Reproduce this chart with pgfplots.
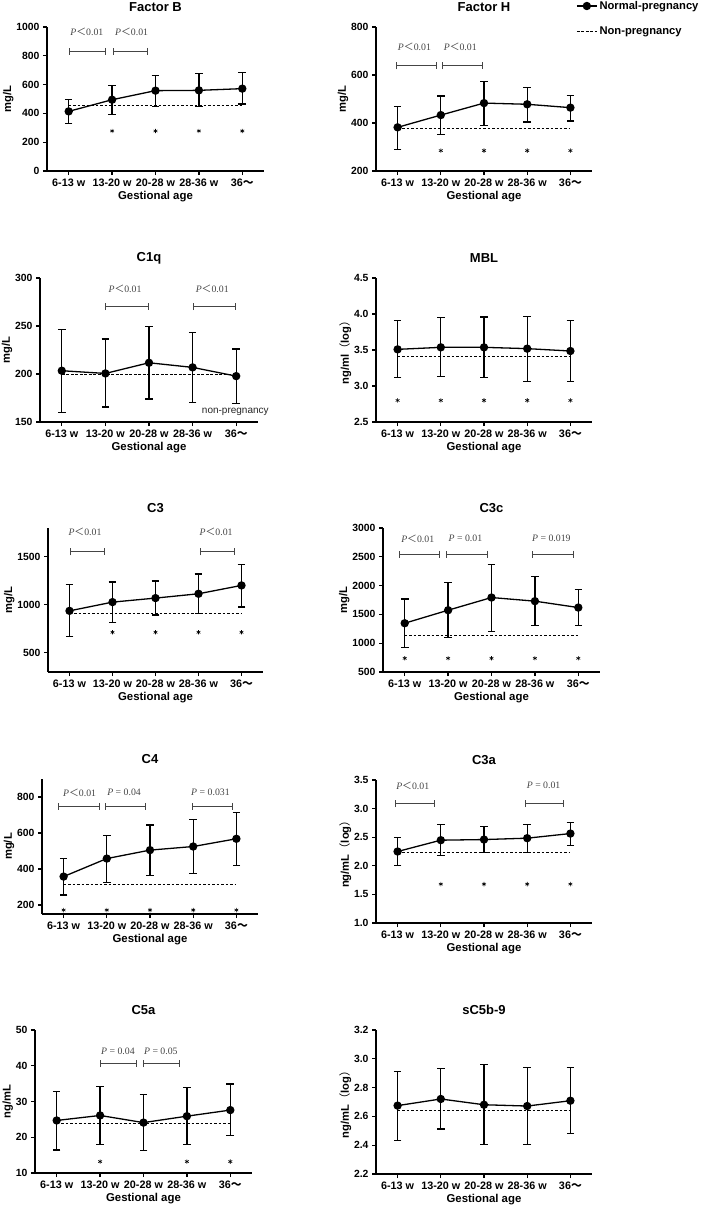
\documentclass[border=0pt]{standalone}
\usepackage{fontspec}
\setmainfont{Liberation Sans}
\newfontfamily\seriffont{Liberation Serif}
\newfontfamily\cjk{Noto Sans CJK SC}
\usepackage{pgfplots}
\pgfplotsset{compat=1.18}
\usetikzlibrary{arrows.meta}
\definecolor{brkc}{HTML}{454545}

\newcommand{\brk}[3]{\draw[brkc, line width=0.9pt, {Bar[width=7pt]}-{Bar[width=7pt]}] (axis cs:#1,#3) -- (axis cs:#2,#3);}
\newcommand{\plab}[3]{\node[text=brkc, font=\seriffont\fontsize{9.8}{10}\selectfont, inner sep=0pt] at (axis cs:#1,#2) {#3};}
\newcommand{\plt}[1]{\textit{P}{\cjk ＜}#1}
\newcommand{\peq}[1]{\textit{P} = #1}

\pgfplotsset{
  panel/.style={
    scale only axis, clip=false,
    axis lines*=left,
    axis line style={line width=1.3pt, black, -},
    tick align=outside,
    major tick length=4pt,
    tick style={line width=1.3pt, black},
    xmin=-0.5, xmax=4.5,
    xtick={0,1,2,3,4},
    xticklabels={6-13 w,13-20 w,20-28 w,28-36 w,36{\cjk ～}},
    xticklabel style={font=\bfseries\fontsize{10.8}{12}\selectfont},
    yticklabel style={font=\bfseries\fontsize{10.4}{12}\selectfont},
    /pgf/number format/assume math mode=true,
    /pgf/number format/1000 sep={},
    scaled y ticks=false,
    xlabel={Gestional age},
    xlabel style={font=\bfseries\fontsize{11.4}{12}\selectfont, at={(axis description cs:0.5,0)}, anchor=center, yshift=-26pt},
    ylabel style={font=\bfseries\fontsize{11.2}{12}\selectfont},
    ylabel shift=-4pt,
    title style={font=\bfseries\fontsize{13}{14}\selectfont, at={(axis description cs:0.5,1)}, anchor=center, yshift=14pt},
    anchor=south west,
  },
  dec/.style={yticklabel style={/pgf/number format/fixed, /pgf/number format/fixed zerofill, /pgf/number format/precision=#1}},
  mainline/.style={black, line width=1.3pt, mark=*, mark size=3.5pt, mark options={solid},
    error bars/y dir=both, error bars/y explicit,
    error bars/error bar style={line width=1.3pt, black},
    error bars/error mark options={rotate=90, line width=1.3pt, mark size=3.8pt, black}},
  nonpreg/.style={black, line width=1pt, dash pattern=on 2.7pt off 1.8pt, no marks},
  star/.style={only marks, mark=asterisk, mark size=2.2pt, line width=0.6pt, black, forget plot},
}

\begin{document}
\begin{tikzpicture}
\useasboundingbox (0pt,0pt) rectangle (709pt,-1207pt);

% Factor B
\begin{axis}[panel, at={(47pt,-171pt)}, width=217pt, height=144pt,
  ymin=0, ymax=1000, ytick={0,200,400,600,800,1000}, ylabel={mg/L}, title={Factor B}]
\addplot[nonpreg] coordinates {(0,456) (4,456)};
\addplot[mainline] table[x=x,y=y,y error plus=ep,y error minus=em] {
x y ep em
0 414 84 83
1 495 100 102
2 558 106 109
3 560 116 111
4 572 111 107
};
\addplot[star] coordinates {(1,278) (2,278) (3,278) (4,278)};
\brk{0}{0.85}{831}
\brk{1.03}{1.83}{831}
\plab{0.42}{968}{\plt{0.01}}
\plab{1.45}{968}{\plt{0.01}}
\end{axis}

% Factor H
\begin{axis}[panel, at={(376pt,-171pt)}, width=216pt, height=144pt,
  ymin=200, ymax=800, ytick={200,400,600,800}, ylabel={mg/L}, title={Factor H},
  legend style={at={(axis description cs:0,1)}, anchor=north west, xshift=200pt, yshift=28pt,
    draw=none, fill=none, inner sep=0pt, row sep=12pt,
    font=\bfseries\fontsize{11.2}{13}\selectfont},
  legend cell align=left,
  legend image code/.code={\draw[mark repeat=2, mark phase=2, #1] plot coordinates {(0pt,0pt) (10pt,0pt) (20pt,0pt)};}]
\addplot[mainline] table[x=x,y=y,y error plus=ep,y error minus=em] {
x y ep em
0 382 87 92
1 433 79 80
2 483 91 93
3 478 69 74
4 464 51 56
};
\addlegendentry{Normal-pregnancy}
\addplot[nonpreg] coordinates {(0,376) (4,376)};
\addlegendentry{Non-pregnancy}
\addplot[star] coordinates {(1,285) (2,285) (3,285) (4,285)};
\brk{-0.03}{0.9}{638}
\brk{1.03}{1.98}{638}
\plab{0.39}{717}{\plt{0.01}}
\plab{1.45}{717}{\plt{0.01}}
\end{axis}

% C1q
\begin{axis}[panel, at={(40pt,-422pt)}, width=218pt, height=144pt,
  ymin=150, ymax=300, ytick={150,200,250,300}, ylabel={mg/L}, title={C1q}]
\addplot[nonpreg] coordinates {(0,199.9) (4,199.9)};
\addplot[mainline] table[x=x,y=y,y error plus=ep,y error minus=em] {
x y ep em
0 203.4 42.6 43.4
1 200.6 35.9 34.9
2 211.7 37.7 37.7
3 206.9 36.1 36.3
4 197.8 28.2 28.8
};
\brk{1}{2}{270.3}
\brk{3}{4}{270.3}
\plab{1.45}{289}{\plt{0.01}}
\plab{3.45}{289}{\plt{0.01}}
\node[font=\fontsize{10}{10}\selectfont, text=black!85, inner sep=0pt] at (axis cs:3.98,160.4) {non-pregnancy};
\end{axis}

% MBL
\begin{axis}[panel, dec=1, at={(376pt,-422pt)}, width=216pt, height=144pt,
  ymin=2.5, ymax=4.5, ytick={2.5,3.0,3.5,4.0,4.5}, ylabel={ng/ml{\cjk\mdseries （}log{\cjk\mdseries ）}}, title={MBL}]
\addplot[nonpreg] coordinates {(0,3.416) (4,3.416)};
\addplot[mainline] table[x=x,y=y,y error plus=ep,y error minus=em] {
x y ep em
0 3.509 0.400 0.395
1 3.537 0.414 0.404
2 3.537 0.423 0.418
3 3.519 0.446 0.452
4 3.486 0.423 0.419
};
\addplot[star] coordinates {(0,2.8) (1,2.8) (2,2.8) (3,2.8) (4,2.8)};
\end{axis}

% C3
\begin{axis}[panel, at={(48pt,-672pt)}, width=215pt, height=144pt,
  ymin=300, ymax=1800, ytick={500,1000,1500}, ylabel={mg/L}, title={C3}]
\addplot[nonpreg] coordinates {(0,913) (4,913)};
\addplot[mainline] table[x=x,y=y,y error plus=ep,y error minus=em] {
x y ep em
0 937 272 268
1 1028 209 209
2 1070 177 175
3 1115 206 206
4 1202 220 226
};
\addplot[star] coordinates {(1,714) (2,714) (3,714) (4,714)};
\brk{0}{0.83}{1551}
\brk{3.03}{3.85}{1551}
\plab{0.36}{1756}{\plt{0.01}}
\plab{3.41}{1756}{\plt{0.01}}
\end{axis}

% C3c
\begin{axis}[panel, at={(383pt,-672pt)}, width=217pt, height=144pt,
  ymin=500, ymax=3000, ytick={500,1000,1500,2000,2500,3000}, ylabel={mg/L}, title={C3c}]
\addplot[nonpreg] coordinates {(0,1132) (4,1132)};
\addplot[mainline] table[x=x,y=y,y error plus=ep,y error minus=em] {
x y ep em
0 1347 423 418
1 1573 482 476
2 1793 575 591
3 1730 429 424
4 1619 314 313
};
\addplot[star] coordinates {(0,738) (1,738) (2,738) (3,738) (4,738)};
\brk{-0.14}{0.82}{2548}
\brk{0.96}{1.92}{2548}
\brk{2.94}{3.89}{2548}
\plab{0.3}{2814}{\plt{0.01}}
\plab{1.4}{2814}{\peq{0.01}}
\plab{3.38}{2814}{\peq{0.019}}
\end{axis}

% C4
\begin{axis}[panel, at={(42pt,-914pt)}, width=216pt, height=135pt,
  ymin=150, ymax=900, ytick={200,400,600,800}, ylabel={mg/L}, title={C4}]
\addplot[nonpreg] coordinates {(0,315) (4,315)};
\addplot[mainline] table[x=x,y=y,y error plus=ep,y error minus=em] {
x y ep em
0 358 100 102
1 458 130 132
2 505 139 140
3 525 152 150
4 568 147 149
};
\addplot[star] coordinates {(0,172) (1,172) (2,172) (3,172) (4,172)};
\brk{-0.12}{0.83}{748}
\brk{0.95}{1.9}{748}
\brk{2.97}{3.91}{748}
\plab{0.37}{826}{\plt{0.01}}
\plab{1.4}{826}{\peq{0.04}}
\plab{3.4}{826}{\peq{0.031}}
\end{axis}

% C3a
\begin{axis}[panel, dec=1, at={(376pt,-923pt)}, width=216pt, height=143pt,
  ymin=1, ymax=3.5, ytick={1,1.5,2,2.5,3,3.5}, ylabel={ng/mL{\cjk\mdseries （}log{\cjk\mdseries ）}}, title={C3a}]
\addplot[nonpreg] coordinates {(0,2.227) (4,2.227)};
\addplot[mainline] table[x=x,y=y,y error plus=ep,y error minus=em] {
x y ep em
0 2.25 0.25 0.25
1 2.448 0.273 0.268
2 2.459 0.227 0.226
3 2.483 0.238 0.25
4 2.564 0.192 0.204
};
\addplot[star] coordinates {(1,1.68) (2,1.68) (3,1.68) (4,1.68)};
\brk{-0.06}{0.86}{3.087}
\brk{2.96}{3.86}{3.087}
\plab{0.35}{3.40}{\plt{0.01}}
\plab{3.38}{3.40}{\peq{0.01}}
\end{axis}

% C5a
\begin{axis}[panel, at={(35pt,-1173pt)}, width=217pt, height=143pt,
  ymin=10, ymax=50, ytick={10,20,30,40,50}, ylabel={ng/mL}, title={C5a}]
\addplot[nonpreg] coordinates {(0,23.9) (4,23.9)};
\addplot[mainline] table[x=x,y=y,y error plus=ep,y error minus=em] {
x y ep em
0 24.7 8.1 8.3
1 26.1 8.1 8.2
2 24.1 7.8 7.8
3 25.9 8.0 8.0
4 27.6 7.3 7.2
};
\addplot[star] coordinates {(1,13.2) (3,13.2) (4,13.2)};
\brk{1}{1.85}{40.6}
\brk{2}{2.85}{40.6}
\plab{1.41}{44}{\peq{0.04}}
\plab{2.4}{44}{\peq{0.05}}
\end{axis}

% sC5b-9
\begin{axis}[panel, dec=1, at={(376pt,-1174pt)}, width=216pt, height=144pt,
  ymin=2.2, ymax=3.2, ytick={2.2,2.4,2.6,2.8,3.0,3.2}, ylabel={ng/mL{\cjk\mdseries （}log{\cjk\mdseries ）}}, title={sC5b-9}]
\addplot[nonpreg] coordinates {(0,2.642) (4,2.642)};
\addplot[mainline] table[x=x,y=y,y error plus=ep,y error minus=em] {
x y ep em
0 2.675 0.236 0.244
1 2.721 0.213 0.208
2 2.681 0.278 0.277
3 2.672 0.269 0.268
4 2.709 0.232 0.227
};
\end{axis}

\end{tikzpicture}
\end{document}
